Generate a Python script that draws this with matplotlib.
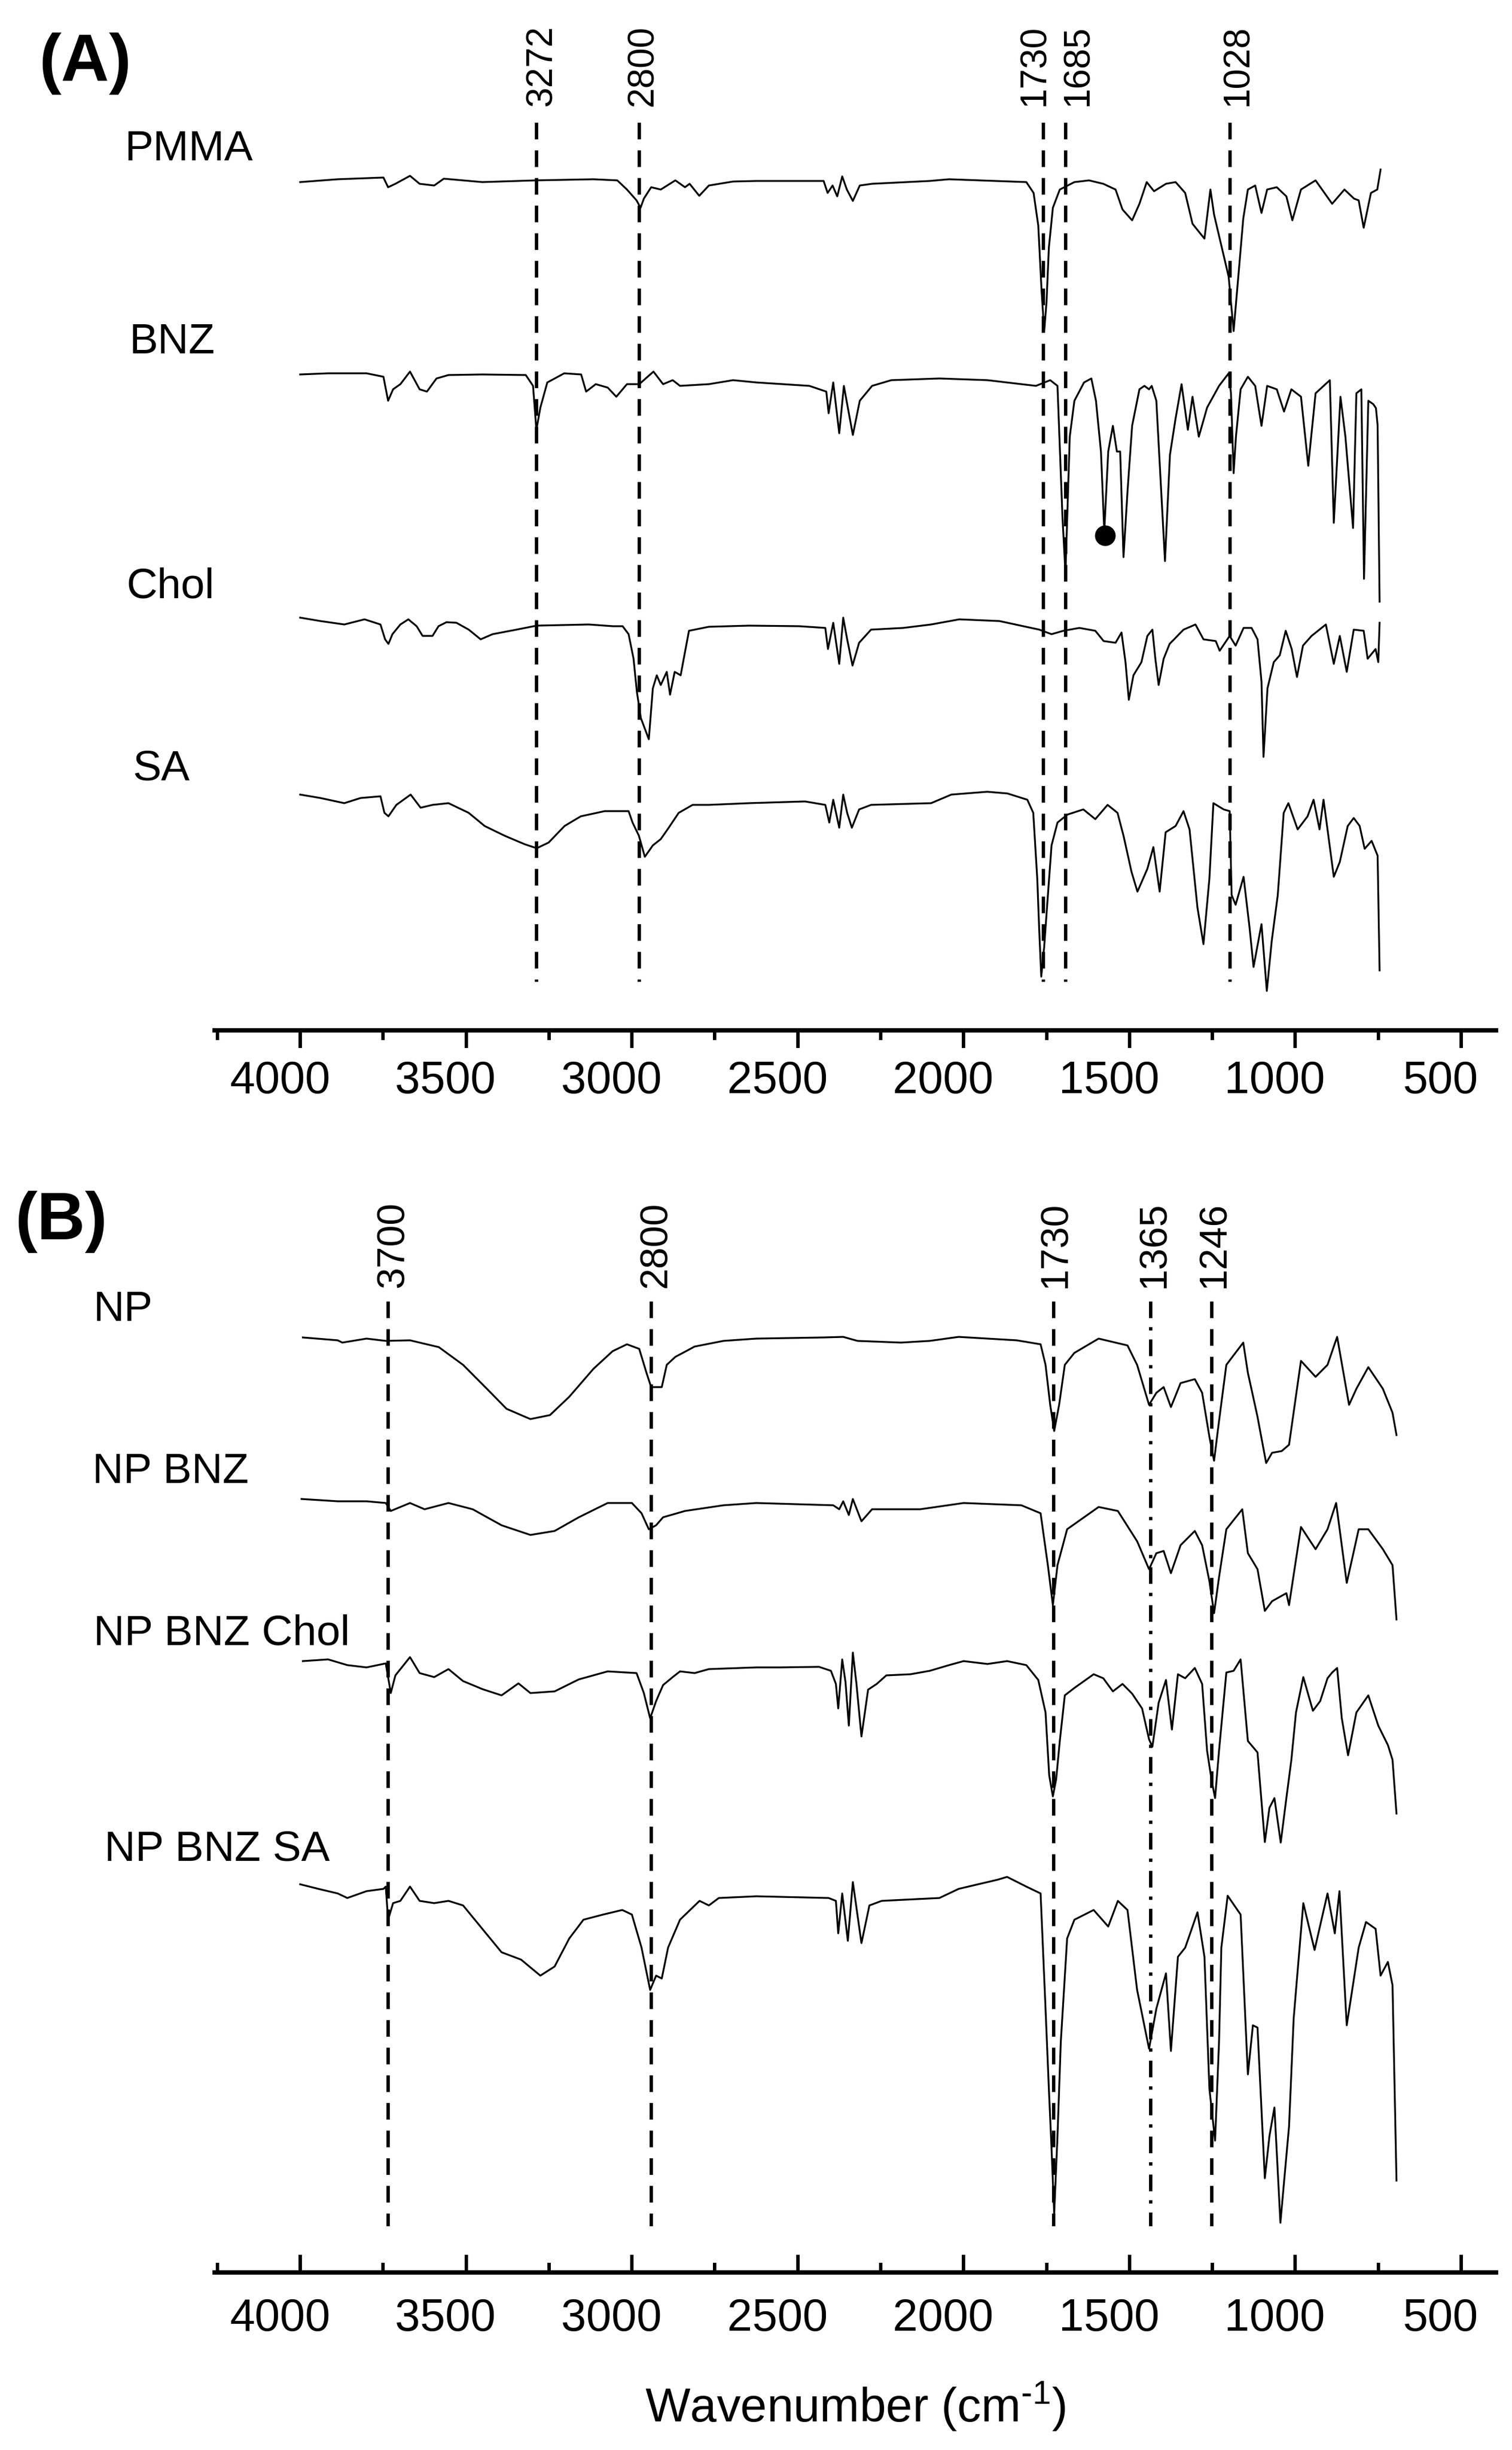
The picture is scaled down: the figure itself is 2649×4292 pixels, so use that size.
import matplotlib
matplotlib.use("Agg")
import matplotlib.pyplot as plt
import matplotlib.transforms as mtransforms
from matplotlib.ticker import MultipleLocator

plt.rcParams['font.family'] = ['Liberation Sans', 'DejaVu Sans']
plt.rcParams['mathtext.fontset'] = 'custom'
plt.rcParams['mathtext.rm'] = 'Liberation Sans'
plt.rcParams['mathtext.it'] = 'Liberation Sans:italic'

# ---------------- data (wavenumber cm-1, offset absorbance-like signal; axis inverted) ----------------
major_ticks = [4000, 3500, 3000, 2500, 2000, 1500, 1000, 500]

pmma = [(4000,31.9),(3887,31.4),(3749,31.1),(3735,32.8),(3713,32.2),(3669,30.8),(3640,32.2),(3596,32.5),
        (3567,31.3),(3451,31.9),(3291,31.6),(3116,31.4),(3044,31.6),(3015,33.2),(2986,35.1),(2974,36.4),
        (2964,34.8),(2942,32.8),(2913,33.2),(2869,31.6),(2840,32.8),(2826,32.2),(2797,34.3),(2768,32.5),
        (2695,31.8),(2625,31.7),(2422,31.7),(2410,33.8),(2395,32.5),(2381,34.4),(2366,30.9),(2352,33.2),
        (2334,35.2),(2313,32.5),(2276,32.2),(2102,31.7),(2044,31.4),(1811,31.9),(1789,33.8),(1775,39.5),
        (1765,51.0),(1757,58.0),(1750,52.9),(1743,43.4),(1731,36.4),(1710,33.2),(1666,31.9),(1622,31.6),
        (1579,32.2),(1542,33.2),(1521,36.7),(1492,38.6),(1470,35.7),(1448,31.9),(1426,33.5),(1390,32.2),
        (1361,31.9),(1332,33.8),(1310,39.2),(1288,40.8),(1274,41.8),(1256,33.2),(1245,37.6),(1215,45.0),
        (1201,48.5),(1186,58.0),(1172,48.5),(1157,38.3),(1143,33.2),(1121,32.5),(1102,37.3),(1085,33.2),
        (1056,32.8),(1027,34.4),(1009,38.6),(983,33.2),(939,31.6),(889,35.7),(852,33.2),(823,34.8),
        (809,35.1),(794,39.9),(772,33.8),(753,33.2),(743,29.7)]

bnz = [(4000,65.6),(3916,65.4),(3800,65.4),(3749,66.0),(3735,70.2),(3720,68.2),(3698,67.3),(3669,65.1),
       (3640,68.2),(3618,68.6),(3589,66.3),(3553,65.7),(3451,65.6),(3320,65.7),(3298,67.6),(3288,75.3),
       (3276,71.4),(3255,67.0),(3204,65.4),(3153,65.6),(3138,68.6),(3109,67.3),(3073,67.9),(3047,69.5),
       (3015,67.3),(2978,67.3),(2935,65.1),(2906,67.3),(2877,66.6),(2855,67.6),(2768,67.3),(2695,66.6),
       (2625,67.0),(2465,67.6),(2414,68.6),(2407,72.4),(2393,67.0),(2375,75.9),(2361,67.6),(2334,76.2),
       (2313,70.2),(2276,67.6),(2218,66.6),(2073,66.3),(1928,66.6),(1782,67.6),(1739,66.6),(1717,67.6),
       (1702,90.6),(1693,100.5),(1680,76.5),(1666,70.2),(1637,67.0),(1615,66.3),(1601,70.2),(1586,79.1),
       (1576,93.1),(1564,79.1),(1550,74.6),(1538,79.1),(1528,79.1),(1518,97.6),(1506,86.1),(1492,74.6),
       (1470,68.2),(1455,67.6),(1441,68.2),(1433,67.6),(1419,70.2),(1393,98.3),(1378,79.7),(1361,73.3),
       (1343,67.3),(1324,75.3),(1310,69.5),(1291,76.5),(1266,71.4),(1230,67.6),(1201,65.4),(1194,68.9),
       (1186,82.9),(1179,76.5),(1165,68.2),(1143,66.0),(1121,67.6),(1102,74.6),(1085,67.6),(1056,68.2),
       (1034,72.1),(1012,68.2),(983,69.5),(961,81.6),(939,68.9),(896,66.6),(884,91.6),(864,69.5),
       (849,76.5),(826,92.5),(816,68.9),(801,68.2),(793,101.4),(780,70.2),(765,70.8),(757,71.5),
       (752,74.5),(746,105.4)]

chol = [(4000,108.2),(3939,108.8),(3867,109.4),(3806,108.5),(3758,109.4),(3744,112.0),(3734,112.8),
        (3722,111.1),(3698,109.4),(3674,108.5),(3649,109.7),(3631,111.4),(3601,111.4),(3583,109.7),
        (3559,109.0),(3529,109.1),(3492,110.3),(3456,112.0),(3420,111.1),(3348,110.3),(3287,109.6),
        (3130,109.4),(3058,109.7),(3028,109.7),(3010,111.1),(2995,115.4),(2985,121.2),(2973,125.8),
        (2949,129.5),(2937,120.6),(2925,118.3),(2913,120.0),(2895,117.7),(2885,121.7),(2871,117.7),
        (2853,118.3),(2828,110.5),(2768,109.8),(2647,109.6),(2496,109.7),(2417,110.0),(2409,113.7),
        (2393,109.1),(2375,116.3),(2363,108.2),(2351,112.0),(2335,116.6),(2315,112.6),(2279,110.3),
        (2182,110.0),(2098,109.4),(2013,108.5),(1892,108.8),(1820,109.7),(1772,110.3),(1735,111.1),
        (1699,110.5),(1651,110.0),(1603,110.5),(1578,112.3),(1542,112.6),(1524,110.8),(1512,116.0),
        (1502,122.6),(1488,118.3),(1464,116.0),(1446,111.4),(1431,110.3),(1422,115.4),(1412,120.0),
        (1397,115.4),(1379,112.8),(1337,110.3),(1301,109.4),(1277,112.0),(1240,112.3),(1228,114.0),
        (1198,111.4),(1180,113.1),(1156,110.0),(1132,110.0),(1114,112.0),(1102,119.4),(1096,132.6),
        (1084,120.6),(1065,116.0),(1047,114.8),(1029,110.5),(1011,113.7),(995,118.6),(977,113.1),
        (951,111.4),(908,109.4),(884,116.3),(866,111.4),(845,117.7),(824,110.3),(794,110.5),
        (782,115.4),(758,113.7),(750,116.0),(746,109.1)]

sa = [(4000,139.2),(3939,139.8),(3867,140.7),(3818,139.8),(3758,139.5),(3746,142.4),(3734,143.0),
      (3710,141.0),(3667,139.2),(3637,141.5),(3601,141.0),(3553,140.7),(3492,142.4),(3444,144.7),
      (3384,146.4),(3323,147.9),(3287,148.6),(3251,147.6),(3203,144.7),(3154,143.0),(3082,142.1),
      (3010,142.1),(2998,144.1),(2979,146.4),(2961,150.1),(2937,148.1),(2913,147.0),(2889,145.0),
      (2859,142.4),(2817,141.0),(2768,141.0),(2647,140.7),(2478,140.4),(2417,141.0),(2405,144.1),
      (2393,140.1),(2375,145.0),(2363,139.2),(2351,142.4),(2337,145.0),(2315,141.8),(2279,141.0),
      (2098,140.7),(2037,139.2),(1929,138.7),(1868,139.0),(1808,140.1),(1790,142.4),(1778,153.9),
      (1772,163.1),(1766,171.1),(1757,165.8),(1748,158.5),(1735,148.1),(1717,144.1),(1687,142.7),
      (1639,141.8),(1603,143.5),(1566,141.0),(1536,142.4),(1518,146.4),(1494,152.7),(1476,156.2),
      (1446,152.2),(1428,148.4),(1409,156.2),(1391,145.8),(1361,144.7),(1337,142.1),(1319,145.3),
      (1295,159.0),(1277,165.4),(1259,153.9),(1247,140.7),(1216,141.8),(1198,142.1),(1192,156.8),
      (1180,158.5),(1156,153.6),(1138,162.5),(1126,169.4),(1102,161.9),(1086,173.6),(1071,164.8),
      (1053,156.8),(1035,142.4),(1021,140.7),(993,145.3),(963,143.0),(945,140.1),(927,145.3),
      (915,140.1),(884,153.6),(866,151.0),(842,144.7),(824,143.3),(806,144.7),(791,148.7),
      (770,147.3),(752,149.9),(746,170.0)]

np_ = [(3992,234.3),(3887,234.8),(3873,235.2),(3800,234.5),(3742,234.9),(3669,234.8),(3582,236.0),
       (3509,239.1),(3437,243.3),(3378,246.8),(3306,248.6),(3247,247.9),(3189,244.7),(3116,239.8),
       (3058,236.7),(3015,235.5),(2978,236.3),(2956,240.5),(2942,243.0),(2910,243.0),(2895,239.1),
       (2869,237.7),(2811,235.9),(2724,234.9),(2625,234.5),(2422,234.3),(2363,234.2),(2320,234.9),
       (2189,235.2),(2102,234.9),(2015,234.2),(1840,234.8),(1768,235.5),(1753,239.1),(1739,246.1),
       (1727,250.7),(1712,246.1),(1695,239.1),(1666,237.0),(1593,234.5),(1506,235.7),(1477,239.1),
       (1441,246.1),(1419,244.0),(1397,243.0),(1375,246.5),(1346,242.3),(1303,241.6),(1281,244.0),
       (1259,251.7),(1245,255.9),(1233,250.3),(1208,239.1),(1157,235.2),(1143,240.5),(1114,248.2),
       (1088,256.3),(1070,254.5),(1041,254.2),(1019,253.1),(983,238.4),(939,241.2),(903,239.1),
       (874,234.2),(838,246.1),(816,243.3),(780,239.5),(736,243.3),(707,247.5),(695,251.4)]

np_bnz = [(3996,262.6),(3887,263.0),(3800,263.0),(3742,263.3),(3727,264.7),(3698,264.0),(3669,263.3),
          (3625,264.4),(3553,263.3),(3480,264.4),(3393,267.2),(3306,268.9),(3233,268.2),(3160,265.8),
          (3073,263.3),(3000,263.3),(2971,265.1),(2949,267.9),(2927,267.2),(2906,265.8),(2840,264.7),
          (2724,263.7),(2625,263.3),(2393,263.7),(2375,264.4),(2363,263.0),(2346,265.4),(2334,262.6),
          (2308,266.5),(2276,264.4),(2131,264.4),(2000,263.3),(1826,263.7),(1768,265.1),(1746,274.2),
          (1731,281.2),(1717,274.2),(1688,267.9),(1593,264.0),(1535,264.7),(1477,270.0),(1441,274.9),
          (1419,272.1),(1397,271.7),(1375,275.6),(1346,270.7),(1303,268.2),(1281,270.7),(1259,277.0),
          (1245,282.6),(1230,276.3),(1208,267.9),(1160,264.4),(1143,272.1),(1114,274.9),(1092,282.2),
          (1070,280.5),(1027,279.1),(1019,281.2),(983,267.5),(939,271.4),(903,267.9),(877,263.3),
          (845,277.3),(809,267.9),(780,267.9),(736,271.4),(707,274.2),(695,283.7)]

np_bnz_chol = [(3992,291.0),(3916,290.7),(3858,291.7),(3800,292.1),(3742,291.4),(3727,296.6),(3713,293.5),
               (3669,290.3),(3640,293.1),(3596,293.8),(3553,292.4),(3509,294.5),(3451,295.9),(3393,297.0),
               (3342,294.9),(3306,296.6),(3233,296.3),(3160,294.2),(3073,292.8),(2986,293.1),(2964,296.6),
               (2945,301.0),(2927,298.0),(2906,295.2),(2877,293.8),(2855,292.8),(2811,293.1),(2768,292.4),
               (2625,292.1),(2552,292.1),(2436,292.0),(2400,292.7),(2385,295.0),(2378,299.3),(2366,290.7),
               (2356,294.7),(2346,302.3),(2334,289.5),(2323,295.0),(2308,304.2),(2288,296.0),(2262,295.0),
               (2233,293.5),(2160,293.3),(2102,292.7),(2044,291.7),(2000,291.0),(1928,291.5),(1869,291.0),
               (1811,291.7),(1775,294.3),(1753,300.0),(1742,311.0),(1731,314.7),(1721,311.7),(1710,305.0),
               (1695,297.0),(1666,295.7),(1608,293.3),(1579,294.0),(1550,296.3),(1521,295.0),(1492,296.7),
               (1462,299.3),(1441,304.7),(1431,306.0),(1412,298.3),(1390,294.3),(1372,303.0),(1354,293.3),
               (1332,294.0),(1303,292.2),(1281,295.0),(1266,306.7),(1252,312.0),(1242,315.0),(1230,306.7),
               (1208,293.0),(1186,292.7),(1165,290.7),(1143,305.0),(1114,307.0),(1092,322.7),(1078,316.7),
               (1063,315.0),(1044,322.8),(1027,315.0),(1012,308.3),(998,300.0),(976,293.8),(947,299.7),
               (925,298.0),(903,294.0),(889,293.0),(874,292.2),(860,301.0),(841,307.5),(816,300.0),
               (780,297.0),(750,302.3),(721,305.7),(707,308.3),(695,317.7)]

np_bnz_sa = [(4000,330.1),(3945,330.9),(3887,331.7),(3858,332.5),(3800,331.3),(3749,330.9),(3742,330.5),
             (3735,336.3),(3720,333.4),(3698,333.0),(3669,330.5),(3640,333.0),(3596,333.4),(3553,333.0),
             (3509,333.8),(3451,337.9),(3393,342.0),(3334,343.3),(3276,346.1),(3233,344.5),(3189,339.6),
             (3146,336.3),(3087,335.4),(3029,334.6),(3000,335.4),(2971,341.2),(2945,348.6),(2927,346.1),
             (2910,346.6),(2891,341.2),(2855,336.3),(2796,333.0),(2768,333.8),(2738,332.5),(2625,332.2),
             (2407,332.5),(2385,333.0),(2378,338.7),(2366,331.7),(2349,340.0),(2334,329.7),(2308,340.4),
             (2284,333.8),(2247,333.0),(2073,332.5),(2015,330.9),(1898,329.3),(1869,328.8),(1811,330.5),
             (1768,331.7),(1753,351.9),(1743,365.9),(1736,375.0),(1727,387.8),(1717,374.2),(1707,357.7),
             (1688,339.6),(1666,336.3),(1608,334.6),(1564,337.5),(1535,333.0),(1506,334.6),(1477,348.6),
             (1441,358.9),(1419,351.9),(1390,345.7),(1375,359.3),(1354,342.8),(1332,341.2),(1295,335.0),
             (1274,342.8),(1259,365.9),(1242,375.0),(1230,357.7),(1223,341.2),(1204,332.1),(1165,335.4),
             (1143,363.4),(1128,354.8),(1114,355.2),(1092,381.6),(1078,374.2),(1063,369.2),(1045,389.4),
             (1019,372.5),(1005,353.6),(976,333.4),(942,341.6),(903,331.7),(881,338.7),(867,331.3),
             (845,354.8),(809,341.2),(787,336.7),(758,337.9),(743,346.1),(721,343.7),(707,347.8),(695,382.0)]

bnz_marker = (1574, 93.8)

# reference lines: position, label, line style
lines_a = [(3287, "3272", "dash"), (2978, "2800", "dash"), (1760, "1730", "dash"),
           (1692, "1685", "dash"), (1196, "1028", "dash")]
lines_b = [(3735, "3700", "dash"), (2941, "2800", "dash"), (1728, "1730", "dash"),
           (1436, "1365", "dashdot"), (1252, "1246", "dash")]

labels_a = ["PMMA", "BNZ", "Chol", "SA"]
labels_b = ["NP", "NP BNZ", "NP BNZ Chol", "NP BNZ SA"]

# ---------------- layout (pixels) ----------------
W, H = 2649, 4292
label_pos_a = [(219, 281), (227, 619), (221, 1048), (233, 1366)]
label_pos_b = [(164, 2314), (162, 2598), (164, 2882), (183, 3260)]
ref_label_dx_a = [9, 6, -15, 21, 13]     # label shift from its line, px
ref_label_dx_b = [9, 8, 3, 6, 4]

fig = plt.figure(figsize=(W / 100, H / 100), dpi=100)

def box(left_px, right_px, top_row, bottom_row):
    return [left_px / W, 1 - bottom_row / H, (right_px - left_px) / W, (bottom_row - top_row) / H]

axA = fig.add_axes(box(376, 2621, 0, 1805))
axB = fig.add_axes(box(376, 2621, 2000, 3981))

def style(ax, ylim, direction, drop_px):
    ax.set_xlim(4258, 395)
    ax.set_ylim(*ylim)
    for s in ['left', 'right', 'top']:
        ax.spines[s].set_visible(False)
    ax.spines['bottom'].set_linewidth(5.5)
    ax.set_yticks([])
    ax.set_xticks(major_ticks)
    ax.xaxis.set_minor_locator(MultipleLocator(250))
    ax.tick_params(axis='x', which='major', direction=direction, length=22, width=4.3, labelbottom=False)
    ax.tick_params(axis='x', which='minor', direction=direction, length=12, width=4.3, labelbottom=False)
    ax.patch.set_alpha(0)
    off = mtransforms.ScaledTranslation(-0.36, -drop_px / 100, fig.dpi_scale_trans)
    tr = mtransforms.blended_transform_factory(ax.transData, ax.transAxes) + off
    for t in major_ticks:
        ax.text(t, 0, str(t), transform=tr, ha='center', va='top', fontsize=57, clip_on=False)

style(axA, (180.5, 0), 'out', 52)
style(axB, (398.1, 200), 'in', 44)

def draw_refs(ax, refs, dxs, y0, y1, ytext, fs):
    for (w, lab, st), dx in zip(refs, dxs):
        d = (5.0, 3.3) if st == "dash" else (5.0, 2.7, 1.0, 2.7)
        ax.plot([w, w], [y0, y1], color='black', lw=4.2, dashes=d)
        off = mtransforms.ScaledTranslation(dx / 100, 0, fig.dpi_scale_trans)
        ax.text(w, ytext, lab, rotation=90, ha='center', va='bottom', fontsize=fs,
                transform=ax.transData + off)

draw_refs(axA, lines_a, ref_label_dx_a, 21.5, 172.0, 18.6, 46)
draw_refs(axB, lines_b, ref_label_dx_b, 228.0, 390.0, 225.6, 49)

for ax, series in ((axA, [pmma, bnz, chol, sa]), (axB, [np_, np_bnz, np_bnz_chol, np_bnz_sa])):
    for s in series:
        xs = [p[0] for p in s]
        ys = [p[1] for p in s]
        ax.plot(xs, ys, color='black', lw=2.3)

axA.plot([bnz_marker[0]], [bnz_marker[1]], 'o', color='black', ms=25)

for txt, (px, row) in list(zip(labels_a, label_pos_a)) + list(zip(labels_b, label_pos_b)):
    fig.text(px / W, 1 - row / H, txt, fontsize=54, ha='left', va='baseline')

fig.text(68 / W, 1 - 142 / H, "(A)", fontsize=84, fontweight='bold', ha='left', va='baseline')
fig.text(26 / W, 1 - 2171 / H, "(B)", fontsize=84, fontweight='bold', ha='left', va='baseline')

fig.text(1499 / W, 1 - 4243 / H, r"Wavenumber (cm$^{\text{-1}}$)", fontsize=60, ha='center', va='baseline')

fig.savefig("out.png", dpi=100, facecolor='white')
